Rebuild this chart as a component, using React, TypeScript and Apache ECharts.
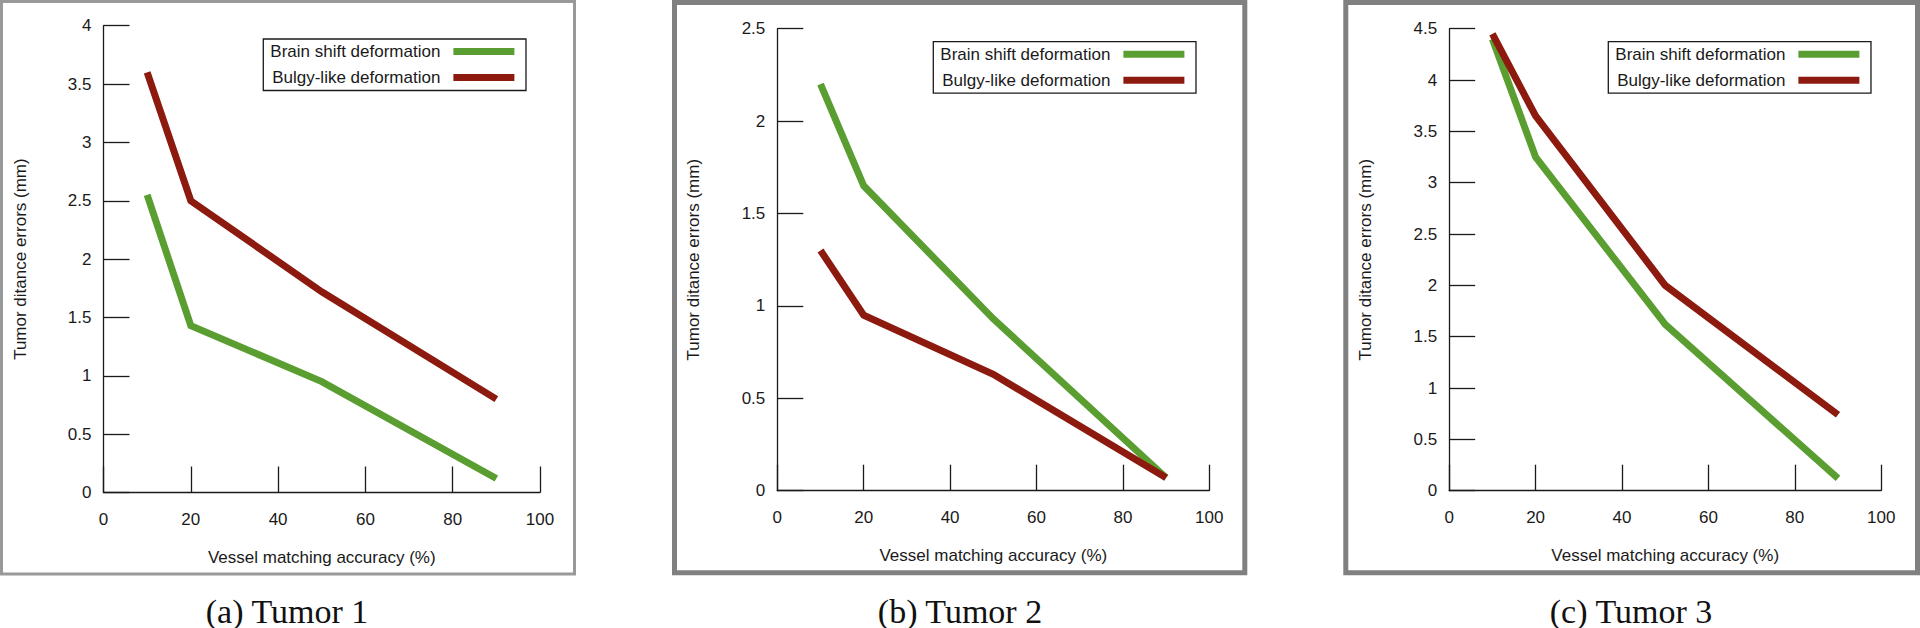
import React, { useEffect, useRef } from "react";
import * as echarts from "echarts";

// ---- data ----
const accuracy = [10, 20, 50, 90];
const brainShift1 = [2.55, 1.43, 0.95, 0.12];
const bulgy1 = [3.6, 2.5, 1.72, 0.8];
const brainShift2 = [2.2, 1.65, 0.93, 0.07];
const bulgy2 = [1.3, 0.95, 0.63, 0.07];
const brainShift3 = [4.4, 3.25, 1.62, 0.12];
const bulgy3 = [4.45, 3.65, 2.0, 0.74];
const yMaxes = [4, 2.5, 4.5];
const seriesNames = ["Brain shift deformation", "Bulgy-like deformation"];
const captions = ["(a) Tumor 1", "(b) Tumor 2", "(c) Tumor 3"];
const xAxisName = "Vessel matching accuracy (%)";
const yAxisName = "Tumor ditance errors (mm)";

const GREEN = "#5a9e32";
const RED = "#8c1a0e";
const INK = "#1a1a1a";
const SANS = "'Liberation Sans', Arial, sans-serif";
const SERIF = "'Liberation Serif', 'Times New Roman', serif";

const panels = [
  { brain: brainShift1, bulgy: bulgy1 },
  { brain: brainShift2, bulgy: bulgy2 },
  { brain: brainShift3, bulgy: bulgy3 },
];

const grids = [
  { left: 103.5, top: 25.7, width: 436.5, height: 466.8 },
  { left: 777.3, top: 28.7, width: 432, height: 462 },
  { left: 1449.2, top: 28.7, width: 432, height: 462 },
];
const legendPos = [
  { left: 263.3, top: 39 },
  { left: 933.3, top: 41.7 },
  { left: 1608.3, top: 41.7 },
];
const frames = [
  { x: 1.5, y: 1.5, width: 573, height: 572.5, stroke: "#999999", lineWidth: 3 },
  { x: 674.5, y: 2.5, width: 570.3, height: 570.3, stroke: "#808080", lineWidth: 5 },
  { x: 1345.8, y: 2.5, width: 571.7, height: 570.3, stroke: "#808080", lineWidth: 5 },
];
const captionX = [287, 960, 1631];

export default function App() {
  const ref = useRef<HTMLDivElement>(null);
  useEffect(() => {
    document.body.style.margin = "0";
    if (!ref.current) return;
    const chart = echarts.init(ref.current, undefined, { renderer: "svg" });

    const xAxes = grids.map((_, i) => ({
      type: "value",
      gridIndex: i,
      min: 0,
      max: 100,
      interval: 20,
      name: xAxisName,
      nameLocation: "middle",
      nameGap: 56,
      nameTextStyle: { fontSize: 17, color: INK, fontFamily: SANS },
      axisLine: { show: true, onZero: false, lineStyle: { color: INK, width: 1.3 } },
      axisTick: { show: true, inside: true, length: 26, lineStyle: { color: INK, width: 1.3 } },
      axisLabel: { fontSize: 17, color: INK, margin: 18, fontFamily: SANS },
      splitLine: { show: false },
    }));
    const yAxes = grids.map((_, i) => ({
      type: "value",
      gridIndex: i,
      min: 0,
      max: yMaxes[i],
      interval: 0.5,
      name: yAxisName,
      nameLocation: "middle",
      nameRotate: 90,
      nameGap: 75,
      nameTextStyle: { fontSize: 17, color: INK, fontFamily: SANS },
      axisLine: { show: true, onZero: false, lineStyle: { color: INK, width: 1.3 } },
      axisTick: { show: true, inside: true, length: 26, lineStyle: { color: INK, width: 1.3 } },
      axisLabel: { fontSize: 17, color: INK, margin: 12, fontFamily: SANS },
      splitLine: { show: false },
    }));

    const series: any[] = [];
    panels.forEach((p, i) => {
      series.push({
        type: "line",
        name: seriesNames[0],
        xAxisIndex: i,
        yAxisIndex: i,
        data: accuracy.map((x, k) => [x, p.brain[k]]),
        showSymbol: false,
        symbol: "none",
        color: GREEN,
        lineStyle: { color: GREEN, width: 7, cap: "butt", join: "miter" },
      });
      series.push({
        type: "line",
        name: seriesNames[1],
        xAxisIndex: i,
        yAxisIndex: i,
        data: accuracy.map((x, k) => [x, p.bulgy[k]]),
        showSymbol: false,
        symbol: "none",
        color: RED,
        lineStyle: { color: RED, width: 7, cap: "butt", join: "miter" },
      });
    });

    const legends = legendPos.map((lp) => ({
      left: lp.left,
      top: lp.top,
      orient: "vertical",
      align: "right",
      icon: "rect",
      itemWidth: 61,
      itemHeight: 7,
      itemGap: 9,
      selectedMode: false,
      backgroundColor: "#ffffff",
      borderColor: INK,
      borderWidth: 1.3,
      padding: [4, 11.6, 4.5, 7],
      data: seriesNames,
      textStyle: { fontSize: 17, color: INK, fontFamily: SANS, padding: [0, 8, 0, 0] },
    }));

    const graphic: any[] = [];
    frames.forEach((f) => {
      graphic.push({
        type: "rect",
        silent: true,
        shape: { x: f.x, y: f.y, width: f.width, height: f.height },
        style: { fill: "none", stroke: f.stroke, lineWidth: f.lineWidth },
      });
    });
    captions.forEach((c, i) => {
      graphic.push({
        type: "text",
        silent: true,
        x: captionX[i],
        y: 611,
        style: {
          text: c,
          fontSize: 34,
          fontFamily: SERIF,
          fill: "#111111",
          align: "center",
          verticalAlign: "middle",
        },
      });
    });

    chart.setOption({
      animation: false,
      backgroundColor: "#ffffff",
      textStyle: { fontFamily: SANS },
      grid: grids,
      xAxis: xAxes,
      yAxis: yAxes,
      legend: legends,
      series,
      graphic,
    });
    return () => chart.dispose();
  }, []);
  return <div ref={ref} style={{ width: 1920, height: 628 }} />;
}
